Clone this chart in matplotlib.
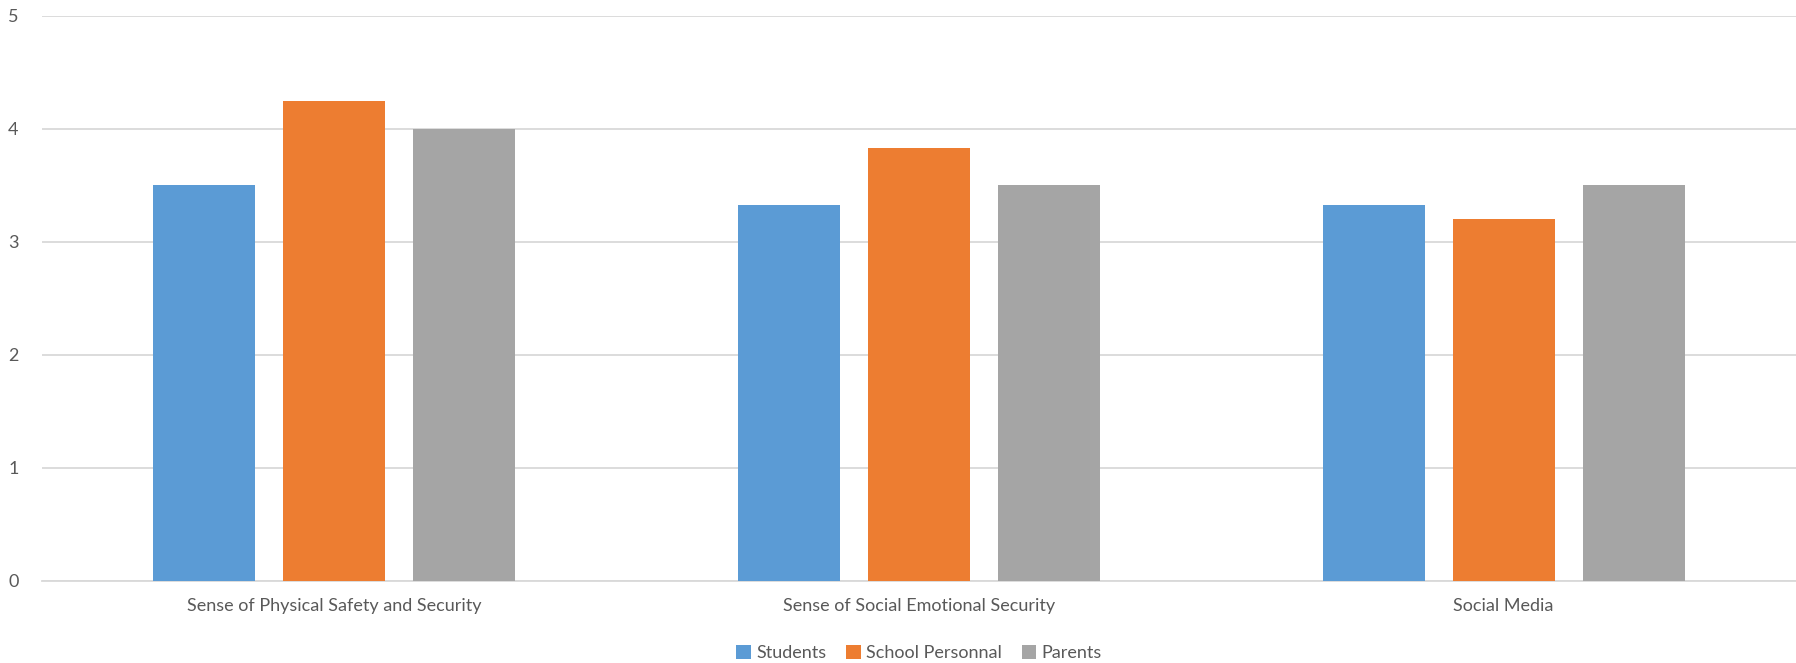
import numpy as np
from matplotlib import pyplot as plt

# chart data
categories = ['Sense of Physical Safety and Security',
              'Sense of Social Emotional Security',
              'Social Media']
series_names = ['Students', 'School Personnal', 'Parents']
students = [3.5, 3.33, 3.33]
school_personnal = [4.25, 3.83, 3.2]
parents = [4.0, 3.5, 3.5]
colors = ['#5b9bd5', '#ed7d31', '#a5a5a5']

plt.rcParams['font.family'] = ['Lato', 'DejaVu Sans']
text_color = '#595959'

fig = plt.figure(figsize=(17.96, 6.63), dpi=100)
ax = fig.add_axes([0.0234, 0.1237, 0.9766, 0.8522])

x = np.arange(len(categories))
width = 0.1745
step = 0.2223
for i, (vals, name) in enumerate(zip([students, school_personnal, parents], series_names)):
    ax.bar(x + (i - 1) * step, vals, width, color=colors[i], label=name, zorder=3)

ax.set_xlim(-0.5, len(categories) - 0.5)
ax.set_ylim(0, 5)
ax.set_yticks(range(6))
ax.grid(axis='y', color='#d9d9d9', linewidth=1.3, zorder=0)
ax.set_xticks(x)
ax.set_xticklabels(categories)
ax.tick_params(axis='both', length=0, labelsize=13, colors=text_color)
ax.tick_params(axis='x', pad=12)
ax.tick_params(axis='y', pad=17)
for s in ['top', 'right', 'left']:
    ax.spines[s].set_visible(False)
ax.spines['bottom'].set_color('#d9d9d9')
ax.spines['bottom'].set_linewidth(1.3)

leg = ax.legend(loc='upper center', bbox_to_anchor=(0.5, -0.085), ncol=3, frameon=False,
                fontsize=13, handlelength=0.8, handleheight=0.8, handletextpad=0.3,
                columnspacing=1.1)
for t in leg.get_texts():
    t.set_color(text_color)

fig.savefig('out.png', dpi=100)
